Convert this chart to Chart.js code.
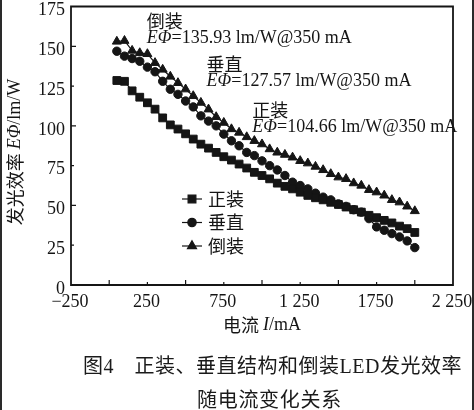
<!DOCTYPE html>
<html><head><meta charset="utf-8">
<script src="https://cdn.jsdelivr.net/npm/chart.js@4.4.0/dist/chart.umd.min.js"></script>
<style>
html,body{margin:0;padding:0;background:#fff;}
#wrap{position:relative;width:474px;height:410px;overflow:hidden;background:#fff;}
#c{position:absolute;left:0;top:0;}
.cap{position:absolute;font-family:"Liberation Serif","Noto Sans CJK SC",serif;font-size:20px;line-height:20px;color:#1a1a1a;letter-spacing:0.5px;white-space:nowrap;}
.edge{position:absolute;top:0;width:2px;height:410px;background:#2a2a2a;}
</style></head><body>
<div id="wrap">
<canvas id="c" width="474" height="410"></canvas>
<div class="cap" style="left:83px;top:356px">图4　正装、垂直结构和倒装LED发光效率</div>
<div class="cap" style="left:197px;top:390px;letter-spacing:0.7px">随电流变化关系</div>
<div class="edge" style="left:0"></div>
<div class="edge" style="right:0"></div>
</div>
<script>
// ---- data ----
const currents = [50,100,150,200,250,300,350,400,450,500,550,600,650,700,750,800,850,900,950,1000,
                  1050,1100,1150,1200,1250,1300,1350,1400,1450,1500,1550,1600,1650,1700,1750,1800,1850,1900,1950,2000];
const seriesNames = ['正装','垂直','倒装'];
const zhengzhuang = [128.5,128,122,118,114.5,110.5,105,100.6,98,95,91.7,88.5,86,83.3,80.6,78.5,76,73.5,70.8,68.8,
                     66.7,64,62,60.4,58.3,56.3,54.8,53.5,52,50.6,49,47.3,45.8,43.8,42.3,40.6,39,37,35.4,33];
const chuizhi = [146.9,143.8,142.3,140.6,136.9,134,128,123,119.8,115.6,111.9,106.3,103,100,94.8,90.6,87.5,83.3,81.3,78,
                 75,72.3,68.8,64.6,62.5,60.4,57.7,55.2,53.5,51,49.4,47.3,45.8,41.7,36.5,34.4,32.3,30.2,27.7,23.5];
const daozhuang = [153,153.5,147.3,145.8,145.2,139.6,135.4,131,127,123,118.8,114.6,110.4,105.6,102,98,95.8,93,90.6,88.5,
                   85.4,83.3,81.9,80.2,78,76.5,74.4,72.3,69.8,67.7,66.7,64,62.5,59.8,58.3,56.3,53.5,52,49.4,46.5];
const xTickValues = [-250,250,750,1250,1750,2250];
const xTickLabels = ['−250','250','750','1 250','1750','2 250'];
const xMarkValues = [0,250,500,750,1000,1250,1500,1750,2000];
const yTickValues = [0,25,50,75,100,125,150,175];
const noteNames = ['倒装','垂直','正装'];
const noteTexts = ['=135.93 lm/W@350 mA','=127.57 lm/W@350 mA','=104.66 lm/W@350 mA'];
const noteAnchorX = [246,637,937];
const noteAnchorY = [165.6,138.8,110];

// ---- style ----
const ink = '#151515';
const SERIF = '"Liberation Serif","Times New Roman",serif';
const CJK = '"Noto Sans CJK SC",sans-serif';
const styles = [
  {pointStyle:'rect', radius:5.5},
  {pointStyle:'circle', radius:4.2},
  {pointStyle:'triangle', radius:5.2}
];

function drawRuns(ctx, runs, x, y, align){
  let total = 0;
  runs.forEach(r=>{ctx.font=r.f; r.w=ctx.measureText(r.t).width; total+=r.w;});
  let cx = align==='center' ? x-total/2 : x;
  ctx.textAlign='left'; ctx.textBaseline='middle';
  runs.forEach(r=>{ctx.font=r.f; ctx.fillText(r.t, cx, y); cx+=r.w;});
}

function zeroPad(s){ s.paddingTop=0; s.paddingBottom=0; s.paddingLeft=0; s.paddingRight=0; }

const decor = {
  id:'decor',
  afterDraw(chart){
    const ctx = chart.ctx;
    const a = chart.chartArea;
    const x = chart.scales.x, y = chart.scales.y;
    ctx.save();
    ctx.fillStyle = ink;
    ctx.strokeStyle = ink;
    // frame
    ctx.lineWidth = 1.8;
    ctx.beginPath();
    ctx.moveTo(a.left, a.top); ctx.lineTo(a.right, a.top);
    ctx.lineTo(a.right, a.bottom); ctx.lineTo(a.left, a.bottom);
    ctx.closePath();
    ctx.stroke();
    // inner ticks
    ctx.lineWidth = 1.2;
    ctx.beginPath();
    xMarkValues.forEach(v=>{
      const px = x.getPixelForValue(v), len = (v%500===0)?5:3;
      ctx.moveTo(px, a.bottom); ctx.lineTo(px, a.bottom-len);
    });
    yTickValues.forEach(v=>{
      if(v===0||v===175) return;
      const py = y.getPixelForValue(v), len = (v%50===0)?5:3;
      ctx.moveTo(a.left, py); ctx.lineTo(a.left+len, py);
    });
    ctx.stroke();
    // axis titles
    drawRuns(ctx, [
      {t:'电流 ', f:'18px '+CJK},
      {t:'I', f:'italic 18px '+SERIF},
      {t:'/mA', f:'18px '+SERIF}
    ], (a.left+a.right)/2, 325, 'center');
    ctx.save();
    ctx.translate(15, 152);
    ctx.rotate(-Math.PI/2);
    drawRuns(ctx, [
      {t:'发光效率 ', f:'18px '+CJK},
      {t:'EΦ', f:'italic 18px '+SERIF},
      {t:'/lm/W', f:'18px '+SERIF}
    ], 0, 0, 'center');
    ctx.restore();
    // annotations
    noteNames.forEach((n,i)=>{
      const px = x.getPixelForValue(noteAnchorX[i]);
      const py = y.getPixelForValue(noteAnchorY[i]);
      drawRuns(ctx, [{t:n, f:'18px '+CJK}], px, py, 'left');
      drawRuns(ctx, [
        {t:'EΦ', f:'italic 18px '+SERIF},
        {t:noteTexts[i], f:'18px '+SERIF}
      ], px, py+17, 'left');
    });
    // legend
    const lx0 = a.left+111, lx1 = a.left+131, ly0 = 199, lstep = 23.5;
    chart.data.datasets.forEach((ds,i)=>{
      const yy = ly0 + i*lstep;
      ctx.strokeStyle = ink;
      ctx.lineWidth = 1.2;
      ctx.beginPath(); ctx.moveTo(lx0, yy); ctx.lineTo(lx1, yy); ctx.stroke();
      ctx.fillStyle = ink;
      Chart.helpers.drawPoint(ctx, {pointStyle:styles[i].pointStyle, radius:styles[i].radius, rotation:0, borderWidth:1}, (lx0+lx1)/2, yy);
      ctx.fillStyle = ink;
      drawRuns(ctx, [{t:ds.label, f:'18px '+CJK}], lx1+6, yy, 'left');
    });
    ctx.restore();
  }
};

const seriesData = [zhengzhuang, chuizhi, daozhuang];
new Chart(document.getElementById('c'), {
  type:'line',
  data:{
    datasets: seriesData.map((vals,i)=>({
      label: seriesNames[i],
      data: currents.map((c,k)=>({x:c, y:vals[k]})),
      borderColor: ink, backgroundColor: ink,
      borderWidth: 1.2,
      pointStyle: styles[i].pointStyle,
      pointRadius: styles[i].radius,
      pointBorderWidth: 1,
      pointBackgroundColor: ink, pointBorderColor: ink,
      tension: 0
    }))
  },
  options:{
    responsive:false, animation:false, devicePixelRatio:1,
    layout:{padding:{top:5, right:21, left:0, bottom:0}},
    plugins:{legend:{display:false}, tooltip:{enabled:false}},
    scales:{
      x:{
        type:'linear', min:-250, max:2250,
        afterBuildTicks(s){ s.ticks = xTickValues.map(v=>({value:v})); },
        afterFit(s){ s.height = 125; zeroPad(s); },
        grid:{display:false, drawTicks:false},
        border:{display:false},
        ticks:{
          padding:6, labelOffset:-1, color:ink, maxRotation:0, autoSkip:false,
          font:{family:SERIF, size:18},
          callback:(v)=>{ const i = xTickValues.indexOf(v); return i<0?'':xTickLabels[i]; }
        }
      },
      y:{
        type:'linear', min:0, max:175,
        afterBuildTicks(s){ s.ticks = yTickValues.map(v=>({value:v})); },
        afterFit(s){ s.width = 71; zeroPad(s); },
        grid:{display:false, drawTicks:false},
        border:{display:false},
        ticks:{padding:6, labelOffset:4, color:ink, font:{family:SERIF, size:18}}
      }
    }
  },
  plugins:[decor]
});
</script>
</body></html>
